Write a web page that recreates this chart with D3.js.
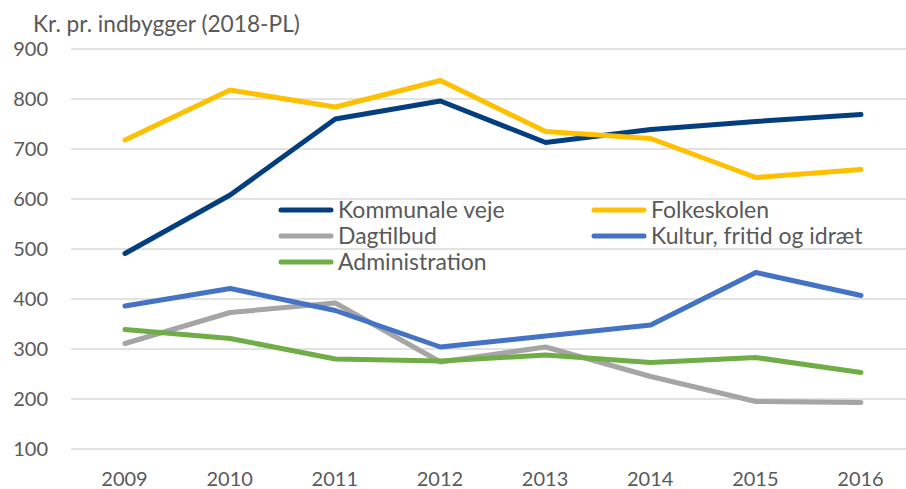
<!DOCTYPE html>
<html>
<head>
<meta charset="utf-8">
<script src="https://cdn.jsdelivr.net/npm/d3@7"></script>
<style>
  body { margin: 0; background: #fff; }
  text { font-family: Lato, "Liberation Sans", sans-serif; fill: #595959; }
</style>
</head>
<body>
<div id="chart"></div>
<script>
var years = [2009, 2010, 2011, 2012, 2013, 2014, 2015, 2016];
var yTicks = [100, 200, 300, 400, 500, 600, 700, 800, 900];

var kommunaleVeje = [491, 608, 760, 796, 713, 739, 755, 769];
var folkeskolen   = [718, 818, 784, 837, 735, 721, 643, 659];
var dagtilbud     = [311, 373, 392, 274, 304, 245, 195, 193];
var kultur        = [386, 421, 377, 304, 326, 348, 453, 407];
var administration = [339, 321, 280, 276, 288, 273, 283, 253];

var seriesNames = ["Kommunale veje", "Folkeskolen", "Dagtilbud", "Kultur, fritid og idræt", "Administration"];
var seriesValues = [kommunaleVeje, folkeskolen, dagtilbud, kultur, administration];
var seriesColors = ["#033f7f", "#ffc000", "#a5a5a5", "#4472c4", "#70ad47"];

(function() {
  var width = 906, height = 489;

  var svg = d3.select("#chart")
    .append("svg")
    .attr("width", width)
    .attr("height", height);

  var xPositionScale = d3.scalePoint().domain(years).range([125, 861]);
  var yPositionScale = d3.scaleLinear().domain([100, 900]).range([449, 49]);

  // gridlines
  svg.selectAll(".grid")
    .data(yTicks)
    .enter().append("line")
    .attr("class", "grid")
    .attr("x1", 71)
    .attr("x2", width)
    .attr("y1", function(d) { return yPositionScale(d); })
    .attr("y2", function(d) { return yPositionScale(d); })
    .attr("stroke", "#d9d9d9")
    .attr("stroke-width", 1.5);

  var yAxis = d3.axisLeft(yPositionScale).tickValues(yTicks).tickSize(0).tickPadding(0);
  svg.append("g")
    .attr("class", "axis y-axis")
    .attr("transform", "translate(48,0)")
    .call(yAxis)
    .call(function(g) { g.select(".domain").remove(); })
    .selectAll("text")
    .attr("font-size", 20)
    .attr("font-family", null)
    .attr("fill", "#595959");

  var xAxis = d3.axisBottom(xPositionScale).tickSize(0).tickPadding(0);
  svg.append("g")
    .attr("class", "axis x-axis")
    .attr("transform", "translate(-1,472)")
    .call(xAxis)
    .call(function(g) { g.select(".domain").remove(); })
    .selectAll("text")
    .attr("font-size", 20)
    .attr("font-family", null)
    .attr("fill", "#595959");

  svg.append("text")
    .attr("x", 33)
    .attr("y", 31.5)
    .attr("font-size", 22.7)
    .text("Kr. pr. indbygger (2018-PL)");

  var line = d3.line()
    .x(function(d, i) { return xPositionScale(years[i]); })
    .y(function(d) { return yPositionScale(d); });

  svg.selectAll(".series")
    .data(seriesValues)
    .enter().append("path")
    .attr("class", "series")
    .attr("d", line)
    .attr("fill", "none")
    .attr("stroke", function(d, i) { return seriesColors[i]; })
    .attr("stroke-width", 5)
    .attr("stroke-linejoin", "round")
    .attr("stroke-linecap", "round");

  // legend, two columns filled row by row
  var legend = svg.selectAll(".legend")
    .data(seriesNames)
    .enter().append("g")
    .attr("class", "legend")
    .attr("transform", function(d, i) {
      var x = i % 2 === 0 ? 281 : 594;
      var y = 210 + Math.floor(i / 2) * 26;
      return "translate(" + x + "," + y + ")";
    });

  legend.append("line")
    .attr("x1", 0)
    .attr("x2", 50)
    .attr("stroke", function(d, i) { return seriesColors[i]; })
    .attr("stroke-width", 5)
    .attr("stroke-linecap", "round");

  legend.append("text")
    .attr("x", 57)
    .attr("dy", "0.35em")
    .attr("font-size", 23)
    .text(function(d) { return d; });
})();
</script>
</body>
</html>
